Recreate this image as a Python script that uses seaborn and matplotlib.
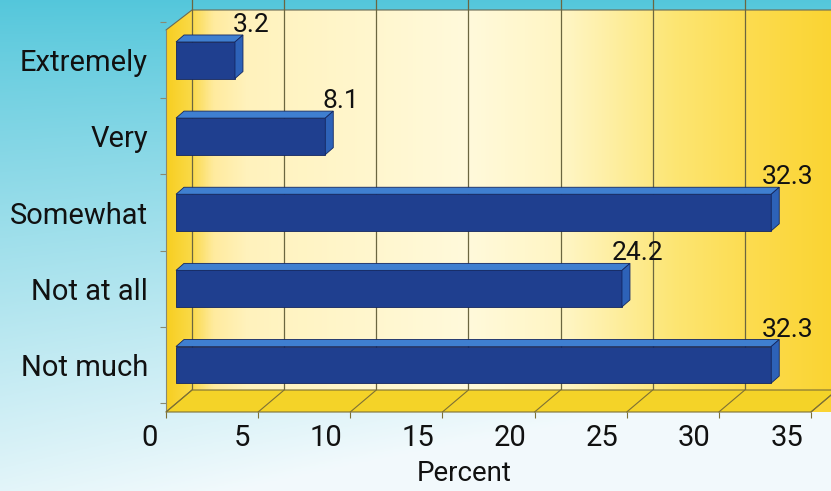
import numpy as np
import pandas as pd
import matplotlib
matplotlib.use("Agg")
import matplotlib.pyplot as plt
import matplotlib.transforms as mtransforms
from matplotlib.lines import Line2D
from matplotlib.patches import Polygon
import seaborn as sns

# ---------------------------------------------------------------
# Data
# ---------------------------------------------------------------
categories = ["Extremely", "Very", "Somewhat", "Not at all", "Not much"]
percent = [3.2, 8.1, 32.3, 24.2, 32.3]
x_ticks = [0, 5, 10, 15, 20, 25, 30, 35]

BAR_FRONT = "#1f3f8f"
BAR_TOP = "#3f7fd0"
BAR_SIDE = "#2d62b8"
FLOOR = "#f4d328"
EDGE = "#7d7035"
DEPTH = (26, 22)      # back wall offset in pixels
BAR_DEPTH = (8, 7)    # bar thickness in pixels

sns.set_theme(style="white")
plt.rcParams["font.family"] = ["Roboto", "DejaVu Sans"]

df = pd.DataFrame({"category": categories, "percent": percent})

fig = plt.figure(figsize=(8.31, 4.91), dpi=100)
W, H = 831, 491

# background gradient (cyan top -> near white bottom)
bg = fig.add_axes([0, 0, 1, 1], zorder=-10)
yy, xx = np.mgrid[0:1:200j, 0:1:300j]
top = np.array([0.33, 0.78, 0.86])
bot = np.array([0.95, 0.98, 0.99])
t = np.clip(yy ** 0.9 + 0.25 * xx * yy - 0.1 * (1 - xx) * yy, 0, 1)[..., None]
bg.imshow(top * (1 - t) + bot * t, aspect="auto", extent=[0, 1, 0, 1], origin="upper")
bg.set_axis_off()

# plot axes (front plane)
left, right, ybot, ytop = 166, 811, 412, 10
ax = fig.add_axes([left / W, (H - ybot) / H, (right - left) / W, (ybot - ytop) / H])
ax.set_facecolor("none")

# yellow back wall gradient, running past the right edge like the back plane
ext = 1 + DEPTH[0] / (right - left)
stops_x = [0.0, 0.035, 0.07, 0.12, 0.45, 0.6, 0.76, 0.88, 1.0]
stops_c = np.array([
    [0.97, 0.81, 0.13], [0.98, 0.85, 0.27], [1.0, 0.92, 0.62], [1.0, 0.95, 0.74],
    [1.0, 0.98, 0.86], [1.0, 0.96, 0.76], [0.99, 0.90, 0.45], [0.99, 0.86, 0.30],
    [0.98, 0.83, 0.19],
])
gx = np.linspace(0, 1, 400)
grad = np.stack([np.interp(gx, stops_x, stops_c[:, i]) for i in range(3)], axis=-1)
im = ax.imshow(grad[None, :, :], aspect="auto", extent=[0, ext, 0, 1],
               transform=ax.transAxes, zorder=0)
cx = DEPTH[0] / (right - left)
cy = 1 - 20 / (ybot - ytop)
wall = Polygon([(0, 0), (0, cy), (cx, 1), (ext, 1), (ext, 0)], closed=True,
               transform=ax.transAxes, facecolor="none", edgecolor="none")
im.set_clip_path(wall)
im.set_clip_box(fig.bbox)
ax.plot([0, cx, ext], [cy, 1, 1], transform=ax.transAxes, color="#6b6a55",
        lw=0.8, clip_on=False, zorder=1)

sns.barplot(data=df, y="category", x="percent", orient="h", color=BAR_FRONT,
            width=0.48, saturation=1, ax=ax, zorder=5)

ax.set_xlim(0, 35)
ax.set_ylim(4.62, -0.66)

back = mtransforms.offset_copy(ax.transData, fig=fig, x=DEPTH[0], y=DEPTH[1], units="dots")

# gridlines on back wall + floor
ylo, yhi = ax.get_ylim()
for xv in x_ticks:
    ax.plot([xv, xv], [ylo, yhi], transform=back, color="#6b6640",
            lw=0.9, zorder=1, clip_on=False)

f0 = ax.transData.transform([(0, ylo), (35, ylo)])
floor_pts = [f0[0], f0[1], f0[1] + DEPTH, f0[0] + DEPTH]
fig.patches.append(Polygon(floor_pts, closed=True, transform=None, facecolor=FLOOR,
                           edgecolor=EDGE, lw=0.8, zorder=2))
for xv in x_ticks:
    p = ax.transData.transform((xv, ylo))
    fig.lines.append(Line2D([p[0], p[0] + DEPTH[0]], [p[1], p[1] + DEPTH[1]],
                            transform=None, color=EDGE, lw=0.8, zorder=3))

# 3D faces of bars
mid = (10, 0)
d = np.array(BAR_DEPTH)
for patch, val in zip(ax.patches, percent):
    x0, y0 = patch.get_x(), patch.get_y()
    w, h = patch.get_width(), patch.get_height()
    ll, ur = ax.transData.transform([(x0, y0 + h), (x0 + w, y0)])
    ll = ll + mid
    ur = ur + mid
    patch.set_transform(mtransforms.offset_copy(ax.transData, fig=fig, x=mid[0], y=mid[1], units="dots"))
    patch.set_edgecolor("#132660")
    patch.set_linewidth(0.6)
    top_face = [(ll[0], ur[1]), (ur[0], ur[1]), (ur[0], ur[1]) + d, (ll[0], ur[1]) + d]
    side_face = [(ur[0], ll[1]), (ur[0], ur[1]), (ur[0], ur[1]) + d, (ur[0], ll[1]) + d]
    fig.patches.append(Polygon(top_face, closed=True, transform=None, facecolor=BAR_TOP,
                               edgecolor="#132660", lw=0.6, zorder=6))
    fig.patches.append(Polygon(side_face, closed=True, transform=None, facecolor=BAR_SIDE,
                               edgecolor="#132660", lw=0.6, zorder=6))
    fig.text((ur[0] + d[0] + 8) / W, (ur[1] + d[1] - 2) / H, f"{val:.1f}", ha="center",
             va="bottom", fontsize=19, color="#111111")

for s in ["top", "right", "bottom"]:
    ax.spines[s].set_visible(False)
ax.spines["left"].set_color("#8a8a70")
ax.spines["left"].set_linewidth(0.8)
ax.spines["left"].set_bounds(ylo, ax.transData.inverted().transform(
    ax.transAxes.transform((0, cy)))[1])

ax.set_xticks(x_ticks)
ax.set_xticklabels([str(v) for v in x_ticks], fontsize=21, color="#111111")
ax.tick_params(axis="x", length=4, width=0.8, color=EDGE, pad=5, direction="out", bottom=True)
shift = mtransforms.ScaledTranslation(-0.08, 0, fig.dpi_scale_trans)
for lab in ax.get_xticklabels():
    lab.set_horizontalalignment("right")
    lab.set_transform(lab.get_transform() + shift)

ax.tick_params(axis="y", length=0, pad=13, labelsize=21, labelcolor="#111111")
ax.set_yticks(np.arange(-0.5, 5, 1), minor=True)
ax.tick_params(axis="y", which="minor", length=4, width=0.8, color="#8a8a70", left=True)

ax.set_xlabel("Percent", fontsize=20, color="#111111", labelpad=4)
ax.xaxis.set_label_coords(0.462, -0.12)
ax.set_ylabel("")

fig.savefig("out.png", dpi=100)
